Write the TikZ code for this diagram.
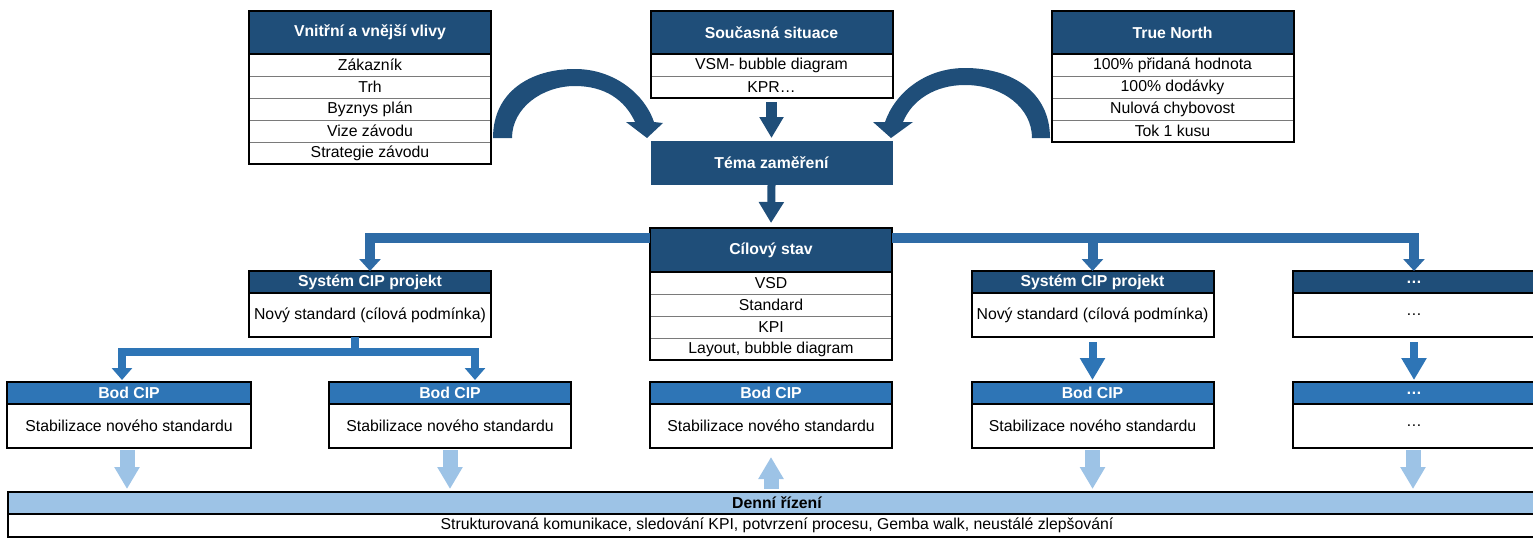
\documentclass[tikz,border=0pt]{standalone}
\usepackage{fontspec}
\setmainfont{Liberation Sans}
\usetikzlibrary{arrows.meta,positioning}

\definecolor{navy}{HTML}{1F4E79}
\definecolor{branchblue}{HTML}{2E6BA6}
\definecolor{cipblue}{HTML}{2E75B6}
\definecolor{lightblue}{HTML}{9DC3E6}
\definecolor{sepgray}{HTML}{7A7A7A}

\tikzset{
  txt/.style={font=\fontsize{15.8}{18}\selectfont},
  cell/.style={rectangle, inner sep=0pt, outer sep=0pt, minimum width=242pt,
    minimum height=22pt, txt, text=black, draw=sepgray, line width=1pt, fill=white},
  head/.style={cell, fill=navy, text=white, draw=none,
    font=\fontsize{15.8}{18}\selectfont\bfseries},
  ciphead/.style={head, fill=cipblue},
  frame/.style={draw=black, line width=2pt},
  navyarrow/.style={draw=navy, line width=11pt, -{Triangle[width=23pt,length=21pt]}},
  branch/.style={draw=branchblue, line width=10pt, line join=miter,
    -{Triangle[width=21pt,length=12pt]}},
  forkarrow/.style={draw=cipblue, line width=8pt, line join=miter,
    -{Triangle[width=20pt,length=12pt]}},
  lowarrow/.style={draw=cipblue, line width=8pt, -{Triangle[width=24pt,length=22pt]}},
  lightarrow/.style={draw=lightblue, line width=15pt, -{Triangle[width=24pt,length=22pt]}},
}

\begin{document}
\begin{tikzpicture}[x=1pt, y=-1pt]
\useasboundingbox (0,0) rectangle (1533,541);
% the right-most column and the bar run on past the page edge
\coordinate (farright) at (1570,0);

% ---- top row: influences, current state, True North ----
\node[head, minimum height=43pt] (vv) at (370,32.5) {Vnitřní a vnější vlivy};
\node[cell, below=0pt of vv] (vv1) {Zákazník};
\node[cell, below=0pt of vv1] (vv2) {Trh};
\node[cell, below=0pt of vv2] (vv3) {Byznys plán};
\node[cell, below=0pt of vv3] (vv4) {Vize závodu};
\node[cell, below=0pt of vv4] (vv5) {Strategie závodu};
\draw[frame] (vv.north west) rectangle (vv5.south east);
\draw[frame] (vv.south west) -- (vv.south east);

\node[head, minimum height=43pt] (sit) at (771.5,32.5) {Současná situace};
\node[cell, below=0pt of sit] (sit1) {VSM- bubble diagram};
\node[cell, below=0pt of sit1] (sit2) {KPR…};
\draw[frame] (sit.north west) rectangle (sit2.south east);
\draw[frame] (sit.south west) -- (sit.south east);

\node[head, minimum height=43pt] (tn) at (1172.5,32.5) {True North};
\node[cell, below=0pt of tn] (tn1) {100\% přidaná hodnota};
\node[cell, below=0pt of tn1] (tn2) {100\% dodávky};
\node[cell, below=0pt of tn2] (tn3) {Nulová chybovost};
\node[cell, below=0pt of tn3] (tn4) {Tok 1 kusu};
\draw[frame] (tn.north west) rectangle (tn4.south east);
\draw[frame] (tn.south west) -- (tn.south east);

% ---- focus topic ----
\node[head, minimum height=44pt] (tema) at (771.5,163) {Téma zaměření};

% curved block arrows feeding the focus topic
\fill[navy] (493,138) .. controls (493,92) and (530,69) .. (575,69)
  .. controls (615,69) and (645,95) .. (654,122) -- (663,123) -- (647,138)
  -- (626,122) -- (635,122) .. controls (625,100) and (605,86) .. (575,86)
  .. controls (542,86) and (512,108) .. (512,138) -- cycle;
\fill[navy] (1050,138) .. controls (1050,92) and (1012,68) .. (965,68)
  .. controls (925,68) and (895,93) .. (885,122) -- (873,122) -- (891,138)
  -- (913,122) -- (903,122) .. controls (912,100) and (935,85) .. (965,85)
  .. controls (1003,85) and (1032,108) .. (1032,138) -- cycle;

% ---- target state ----
\node[head, minimum height=44pt] (cil) at (771,250) {Cílový stav};
\node[cell, below=0pt of cil] (cil1) {VSD};
\node[cell, below=0pt of cil1] (cil2) {Standard};
\node[cell, below=0pt of cil2] (cil3) {KPI};
\node[cell, below=0pt of cil3] (cil4) {Layout, bubble diagram};
\draw[frame] (cil.north west) rectangle (cil4.south east);
\draw[frame] (cil.south west) -- (cil.south east);

% ---- CIP projects ----
\node[head] (s1) at (370,282) {Systém CIP projekt};
\node[cell, minimum height=44pt, below=0pt of s1] (s1b) {Nový standard (cílová podmínka)};
\draw[frame] (s1.north west) rectangle (s1b.south east);
\draw[frame] (s1.south west) -- (s1.south east);

\node[head] (s2) at (1092.5,282) {Systém CIP projekt};
\node[cell, minimum height=44pt, below=0pt of s2] (s2b) {Nový standard (cílová podmínka)};
\draw[frame] (s2.north west) rectangle (s2b.south east);
\draw[frame] (s2.south west) -- (s2.south east);

\node[head] (d1) at (1414,282) {…};
\node[cell, minimum height=44pt, below=0pt of d1] (d1b) {…};
\fill[navy] (d1.north east) rectangle (d1.south -| farright);
\draw[frame] (d1.north west) rectangle (d1b.south -| farright);
\draw[frame] (d1.south west) -- (d1.south -| farright);

% ---- CIP points ----
\node[ciphead, minimum width=244pt] (b1) at (129,393) {Bod CIP};
\node[cell, minimum width=244pt, minimum height=44pt, below=0pt of b1] (b1b) {Stabilizace nového standardu};
\node[ciphead] (b2) at (450,393) {Bod CIP};
\node[cell, minimum height=44pt, below=0pt of b2] (b2b) {Stabilizace nového standardu};
\node[ciphead] (b3) at (771,393) {Bod CIP};
\node[cell, minimum height=44pt, below=0pt of b3] (b3b) {Stabilizace nového standardu};
\node[ciphead] (b4) at (1092.5,393) {Bod CIP};
\node[cell, minimum height=44pt, below=0pt of b4] (b4b) {Stabilizace nového standardu};
\foreach \b in {b1,b2,b3,b4}{
  \draw[frame] (\b.north west) rectangle (\b b.south east);
  \draw[frame] (\b.south west) -- (\b.south east);
}
\node[ciphead] (b5) at (1414,393) {…};
\node[cell, minimum height=44pt, below=0pt of b5] (b5b) {…};
\fill[cipblue] (b5.north east) rectangle (b5.south -| farright);
\draw[frame] (b5.north west) rectangle (b5b.south -| farright);
\draw[frame] (b5.south west) -- (b5.south -| farright);

% ---- daily management bar ----
\node[cell, fill=lightblue, draw=none, minimum width=1538pt,
  font=\fontsize{15.8}{18}\selectfont\bfseries] (dr) at (777,503) {Denní řízení};
\node[cell, minimum width=1538pt, minimum height=23pt, below=0pt of dr] (drb)
  {Strukturovaná komunikace, sledování KPI, potvrzení procesu, Gemba walk, neustálé zlepšování};
\fill[lightblue] (dr.north east) rectangle (dr.south -| farright);
\draw[frame] (dr.north west) rectangle (drb.south -| farright);
\draw[frame] (dr.south west) -- (dr.south -| farright);

% ---- connectors ----
\draw[navyarrow, shorten <=4pt, shorten >=3pt] (sit2.south) -- (tema.north);
\draw[navyarrow, line width=8pt, -{Triangle[width=24pt,length=21pt]}, shorten >=5pt]
  (tema.south) -- (cil.north);

\coordinate (busL) at ([yshift=-10pt]cil.north west);
\coordinate (busR) at ([yshift=-10pt]cil.north east);
\draw[branch] (busL) -| (s1.north);
\draw[branch] (busR) -| (d1.north);
\draw[branch] (busR -| s2.north) -- (s2.north);

\coordinate (fork) at (355,352);
\draw[forkarrow, shorten >=2pt] ([xshift=-15pt]s1b.south) -- (fork) -| ([xshift=-7pt]b1.north);
\draw[forkarrow, shorten >=2pt] (fork) -| ([xshift=25pt]b2.north);
\draw[lowarrow, shorten <=5pt, shorten >=2pt] (s2b.south) -- (b4.north);
\draw[lowarrow, shorten <=5pt, shorten >=2pt] (d1b.south) -- (b5.north);

\draw[lightarrow, shorten <=2pt, shorten >=3pt] ([xshift=-2pt]b1b.south) -- ([xshift=-2pt]b1b.south |- dr.north);
\draw[lightarrow, shorten <=2pt, shorten >=3pt] (b2b.south) -- (b2b.south |- dr.north);
\draw[lightarrow, shorten <=3pt, shorten >=9pt] (b3b.south |- dr.north) -- (b3b.south);
\draw[lightarrow, shorten <=2pt, shorten >=3pt] (b4b.south) -- (b4b.south |- dr.north);
\draw[lightarrow, shorten <=2pt, shorten >=3pt] ([xshift=-1pt]b5b.south) -- ([xshift=-1pt]b5b.south |- dr.north);
\end{tikzpicture}
\end{document}
